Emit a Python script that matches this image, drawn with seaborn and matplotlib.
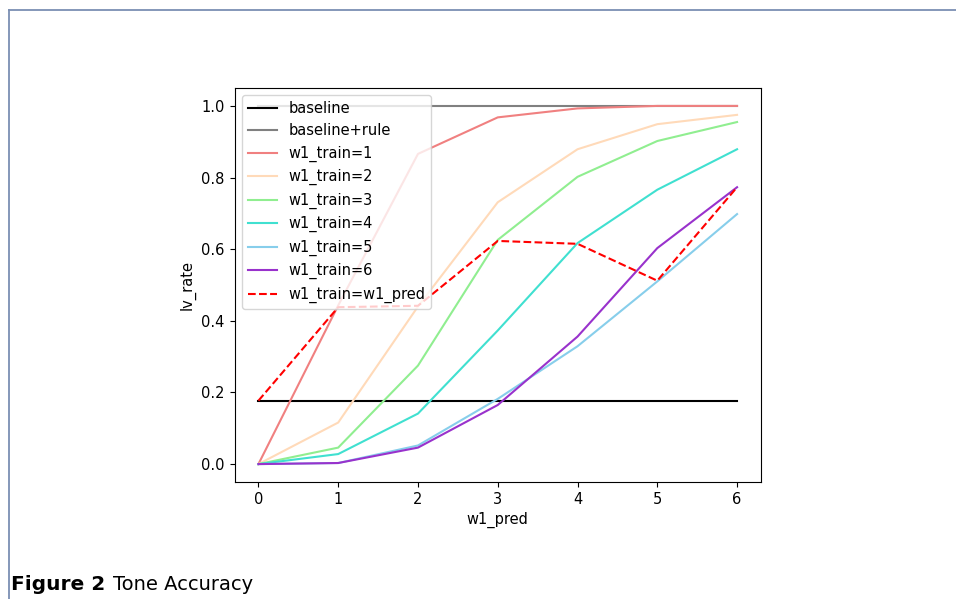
import matplotlib
matplotlib.use("Agg")
import matplotlib.pyplot as plt
from matplotlib.lines import Line2D
import seaborn as sns
import numpy as np

# w1_pred 값 (x축)
w1_pred = [0, 1, 2, 3, 4, 5, 6]

baseline = [0.177] * 7
baseline_rule = [1.0] * 7
train_1 = [0.0, 0.443, 0.866, 0.968, 0.993, 1.0, 1.0]
train_2 = [0.0, 0.116, 0.44, 0.731, 0.879, 0.949, 0.975]
train_3 = [0.0, 0.046, 0.275, 0.626, 0.802, 0.902, 0.955]
train_4 = [0.0, 0.028, 0.141, 0.373, 0.617, 0.766, 0.879]
train_5 = [0.0, 0.003, 0.052, 0.182, 0.329, 0.51, 0.698]
train_6 = [0.0, 0.003, 0.046, 0.165, 0.356, 0.603, 0.773]
train_eq_pred = [0.177, 0.438, 0.442, 0.623, 0.615, 0.512, 0.773]

series = [
    ("baseline", baseline, "black", "-"),
    ("baseline+rule", baseline_rule, "gray", "-"),
    ("w1_train=1", train_1, "lightcoral", "-"),
    ("w1_train=2", train_2, "peachpuff", "-"),
    ("w1_train=3", train_3, "lightgreen", "-"),
    ("w1_train=4", train_4, "turquoise", "-"),
    ("w1_train=5", train_5, "skyblue", "-"),
    ("w1_train=6", train_6, "darkorchid", "-"),
    ("w1_train=w1_pred", train_eq_pred, "red", "--"),
]

plt.rcParams["font.size"] = 10.5
fig = plt.figure(figsize=(9.56, 5.99), dpi=100)
W, H = 956, 599
ax = fig.add_axes([234.5 / W, 1 - 482 / H, (761 - 234.5) / W, (482 - 88) / H])

for name, vals, color, ls in series:
    sns.lineplot(x=w1_pred, y=vals, color=color, linestyle=ls, label=name, ax=ax, linewidth=1.5)

ax.set_xlabel("w1_pred")
ax.set_ylabel("lv_rate")
ax.legend(loc="upper left")

# 논문 페이지 테두리 + 캡션
frame_c = "#7b8fb3"
fig.add_artist(Line2D([9 / W, 9 / W], [0, 1 - 10 / H], color=frame_c, lw=1.3))
fig.add_artist(Line2D([9 / W, 1], [1 - 10 / H, 1 - 10 / H], color=frame_c, lw=1.3))
cap_y = 1 - 584 / H
t1 = fig.text(11 / W, cap_y, "Figure 2", fontsize=14.5, fontweight="bold", va="center")
fig.canvas.draw()
bb = t1.get_window_extent()
fig.text((bb.x1 + 8) / W, cap_y, "Tone Accuracy", fontsize=14, va="center")

fig.savefig("out.png", dpi=100)
